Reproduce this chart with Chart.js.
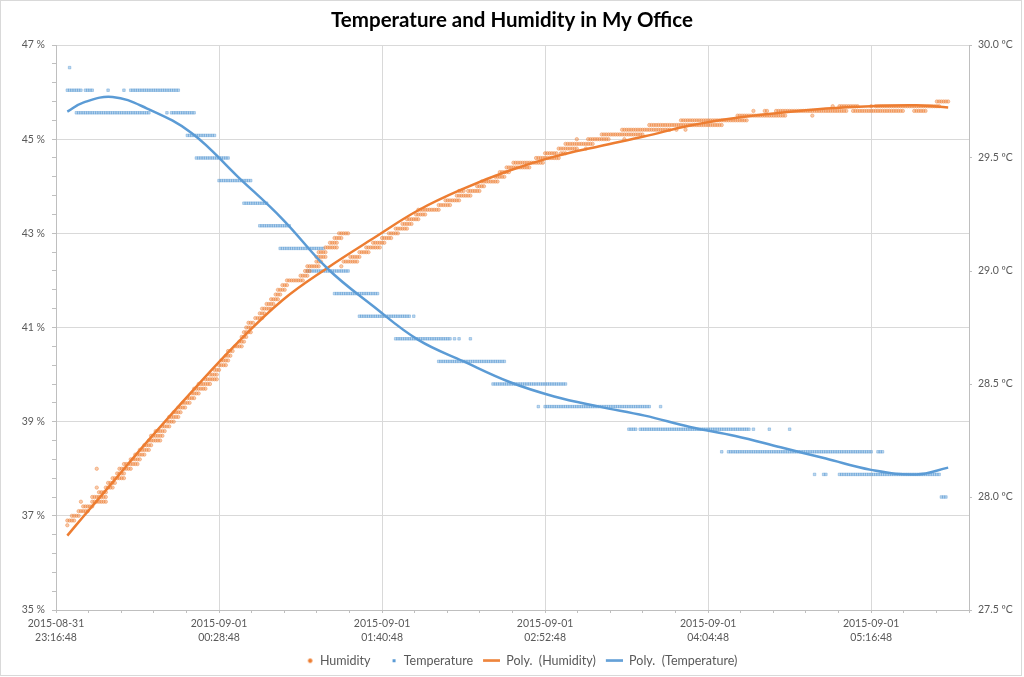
<!DOCTYPE html>
<html>
<head>
<meta charset="utf-8">
<script src="https://cdn.jsdelivr.net/npm/chart.js@4.4.1/dist/chart.umd.min.js"></script>
<style>
  html, body { margin: 0; padding: 0; background: #fff; }
  canvas { display: block; }
</style>
</head>
<body>
<canvas id="office-chart" width="1024" height="677"></canvas>
<script>
// x values are minutes after 2015-08-31 23:16:48 (axis start)
const xTickDates = ['2015-08-31', '2015-09-01', '2015-09-01', '2015-09-01', '2015-09-01', '2015-09-01'];
const xTickTimes = ['23:16:48', '00:28:48', '01:40:48', '02:52:48', '04:04:48', '05:16:48'];
const humidityTickLabels = ['35 %', '37 %', '39 %', '41 %', '43 %', '45 %', '47 %'];
const temperatureTickLabels = ['27.5 ºC', '28.0 ºC', '28.5 ºC', '29.0 ºC', '29.5 ºC', '30.0 ºC'];

// readings, one per minute: [value, first minute, last minute]
const humidityRuns = [
  [36.8, 5, 5], [36.9, 5, 8], [37.0, 7, 10], [37.1, 10, 14], [37.3, 11, 11], [37.2, 12, 16],
  [37.3, 16, 22], [37.4, 16, 22], [37.6, 18, 18], [38.0, 18, 18], [37.5, 19, 22], [37.6, 22, 25],
  [37.7, 23, 26], [37.8, 25, 30], [37.9, 27, 30], [38.0, 28, 33], [38.1, 30, 36], [38.2, 33, 37],
  [38.3, 35, 39], [38.4, 37, 41], [38.5, 39, 42], [38.6, 41, 46], [38.7, 42, 47], [38.8, 44, 48],
  [38.9, 47, 50], [39.0, 49, 52], [39.1, 50, 54], [39.2, 52, 55], [39.3, 54, 57], [39.4, 56, 59],
  [39.5, 58, 61], [39.6, 60, 63], [39.7, 61, 66], [39.8, 63, 68], [39.9, 66, 71], [40.0, 68, 71],
  [40.1, 70, 72], [40.2, 72, 75], [40.3, 73, 76], [40.4, 75, 77], [40.5, 76, 78], [40.6, 79, 82],
  [40.7, 81, 83], [40.8, 82, 84], [40.9, 83, 86], [41.0, 84, 86], [41.1, 85, 87], [41.2, 88, 91],
  [41.3, 90, 92], [41.4, 91, 95], [41.5, 93, 96], [41.6, 95, 98], [41.7, 97, 99], [41.8, 98, 101],
  [41.9, 100, 102], [42.0, 102, 109], [42.1, 108, 111], [42.2, 110, 112], [42.3, 111, 116],
  [42.4, 115, 117], [42.5, 115, 119], [42.6, 116, 119], [42.7, 119, 124], [42.8, 121, 124],
  [42.9, 123, 126], [43.0, 125, 129], [42.3, 126, 126], [42.4, 127, 133], [42.5, 130, 134],
  [42.6, 134, 138], [42.7, 137, 143], [42.8, 140, 145], [42.9, 144, 148], [43.0, 147, 151],
  [43.1, 150, 155], [43.2, 153, 157], [43.3, 155, 160], [43.4, 159, 163], [43.5, 160, 169],
  [43.6, 169, 173], [43.6, 174, 174], [43.7, 172, 178], [43.8, 177, 183], [43.9, 178, 180],
  [43.9, 182, 187], [44.0, 186, 189], [44.1, 188, 195], [44.2, 194, 198], [44.3, 196, 200],
  [44.4, 199, 209], [44.5, 202, 205], [44.5, 206, 215], [44.6, 212, 222], [44.7, 216, 221],
  [44.7, 223, 225], [44.8, 222, 230], [44.8, 234, 234], [44.9, 225, 237], [45.0, 230, 230],
  [45.0, 235, 244], [45.0, 251, 251], [45.1, 241, 246], [45.1, 247, 259], [45.2, 250, 271],
  [45.2, 274, 274], [45.2, 278, 278], [45.3, 262, 294], [45.4, 276, 305], [45.5, 301, 301],
  [45.5, 302, 322], [45.5, 334, 334], [45.6, 308, 308], [45.6, 313, 314], [45.6, 318, 349],
  [45.6, 352, 371], [45.6, 372, 374], [45.6, 379, 384], [45.7, 343, 343], [45.7, 346, 354],
  [45.7, 360, 360], [45.7, 362, 390], [45.8, 389, 394]
];

const temperatureRuns = [
  [29.9, 6, 6], [29.8, 5, 11], [29.8, 13, 16], [29.8, 23, 23], [29.8, 30, 30], [29.8, 33, 54],
  [29.7, 9, 41], [29.7, 49, 49], [29.7, 51, 61], [29.6, 58, 69], [29.6, 70, 70], [29.5, 62, 76],
  [29.4, 72, 86], [29.3, 83, 93], [29.2, 90, 103], [29.1, 99, 118], [29.0, 111, 129],
  [28.9, 123, 142], [28.8, 134, 156], [28.8, 158, 158], [28.7, 150, 174], [28.7, 176, 176],
  [28.7, 178, 178], [28.7, 183, 183], [28.6, 169, 198], [28.5, 193, 225], [28.4, 213, 213],
  [28.4, 216, 262], [28.4, 267, 267], [28.3, 253, 256], [28.3, 258, 306], [28.3, 308, 308],
  [28.3, 315, 315], [28.3, 324, 324], [28.2, 294, 294], [28.2, 297, 299], [28.2, 300, 359],
  [28.2, 360, 360], [28.2, 363, 365], [28.1, 335, 335], [28.1, 339, 340], [28.1, 346, 390],
  [28.0, 391, 393]
];

// polynomial trendlines
const trendMinutes = [5, 12, 25, 40, 60, 80, 100, 120, 140, 160, 180, 200, 220, 240, 260, 280, 300, 320, 340, 360, 380, 394];
const humidityTrend = [36.58, 36.98, 37.71, 38.56, 39.64, 40.67, 41.58, 42.27, 42.89, 43.49, 43.95, 44.33, 44.63, 44.85, 45.06, 45.29, 45.45, 45.56, 45.65, 45.70, 45.72, 45.67];
const temperatureTrend = [29.705, 29.745, 29.77, 29.72, 29.61, 29.42, 29.23, 29.01, 28.845, 28.695, 28.60, 28.51, 28.445, 28.40, 28.36, 28.31, 28.27, 28.22, 28.17, 28.12, 28.10, 28.13];

const ORANGE = '#ED7D31';
const BLUE = '#5B9BD5';
const GRID = '#D9D9D9';
const AXIS = '#BFBFBF';
const TEXT = '#595959';

function expandRuns(runs) {
  const pts = [];
  runs.forEach(([v, from, to]) => {
    for (let m = from; m <= to; m++) pts.push({ x: m, y: v });
  });
  return pts;
}

function trendPoints(values) {
  return trendMinutes.map((m, i) => ({ x: m, y: values[i] }));
}

// little legend marks
function makeMark(w, h, draw) {
  const c = document.createElement('canvas');
  c.width = w;
  c.height = h;
  draw(c.getContext('2d'));
  return c;
}
const legendMarks = [
  makeMark(27, 7, g => { g.fillStyle = ORANGE; g.beginPath(); g.arc(23.5, 3.5, 2.2, 0, Math.PI * 2); g.fill(); }),
  makeMark(27, 7, g => { g.fillStyle = BLUE; g.fillRect(22, 2, 3, 3); }),
  makeMark(27, 3, g => { g.fillStyle = ORANGE; g.fillRect(10, 0.25, 17, 2.5); }),
  makeMark(27, 3, g => { g.fillStyle = BLUE; g.fillRect(10, 0.25, 17, 2.5); })
];

Chart.defaults.font.family = 'Lato, "Liberation Sans", sans-serif';
Chart.defaults.color = TEXT;

const frame = {
  id: 'frame',
  beforeDraw(chart) {
    const ctx = chart.ctx;
    ctx.save();
    ctx.fillStyle = '#fff';
    ctx.fillRect(0, 0, chart.width, chart.height);
    ctx.restore();
  },
  afterDraw(chart) {
    const ctx = chart.ctx;
    ctx.save();
    ctx.strokeStyle = GRID;
    ctx.lineWidth = 1;
    ctx.strokeRect(0.5, 0.5, 1021, 675);
    ctx.restore();
  }
};

new Chart(document.getElementById('office-chart'), {
  type: 'scatter',
  data: {
    datasets: [
      {
        label: 'Humidity',
        data: expandRuns(humidityRuns),
        yAxisID: 'yH',
        order: 2,
        pointStyle: 'circle',
        pointRadius: 1.7,
        backgroundColor: 'rgba(237,125,49,0.4)',
        borderColor: 'rgba(237,125,49,0.85)',
        borderWidth: 0.5
      },
      {
        label: 'Temperature',
        data: expandRuns(temperatureRuns),
        yAxisID: 'yT',
        order: 3,
        pointStyle: 'rect',
        pointRadius: 1.8,
        backgroundColor: 'rgba(91,155,213,0.4)',
        borderColor: 'rgba(91,155,213,0.85)',
        borderWidth: 0.5
      },
      {
        label: 'Poly.  (Humidity)',
        data: trendPoints(humidityTrend),
        yAxisID: 'yH',
        order: 1,
        showLine: true,
        tension: 0.4,
        pointRadius: 0,
        borderColor: ORANGE,
        borderWidth: 2.5
      },
      {
        label: 'Poly.  (Temperature)',
        data: trendPoints(temperatureTrend),
        yAxisID: 'yT',
        order: 0,
        showLine: true,
        tension: 0.4,
        pointRadius: 0,
        borderColor: BLUE,
        borderWidth: 2.5
      }
    ]
  },
  options: {
    responsive: false,
    animation: false,
    devicePixelRatio: 1,
    layout: { padding: 0 },
    plugins: {
      tooltip: { enabled: false },
      title: {
        display: true,
        text: 'Temperature and Humidity in My Office',
        color: '#000',
        font: { size: 20.5, weight: 'bold' },
        padding: { top: 8, bottom: 12.4 }
      },
      legend: {
        position: 'bottom',
        labels: {
          usePointStyle: true,
          pointStyleWidth: 27,
          padding: 0,
          color: TEXT,
          font: { size: 12.5 },
          generateLabels: chart => chart.data.datasets.map((ds, i) => ({
            text: ds.label,
            pointStyle: legendMarks[i],
            fillStyle: ds.borderColor,
            strokeStyle: ds.borderColor,
            lineWidth: 0,
            hidden: false,
            datasetIndex: i,
            fontColor: TEXT
          }))
        }
      }
    },
    scales: {
      x: {
        type: 'linear',
        min: 0,
        max: 403.2,
        afterBuildTicks: s => {
          s.ticks = [];
          for (let k = 0; k <= 28; k++) s.ticks.push({ value: Math.round(k * 144) / 10 });
        },
        afterFit: s => { s.height = 44.5; },
        ticks: {
          autoSkip: false,
          maxRotation: 0,
          padding: 4,
          font: { size: 10.5, lineHeight: 1.3 },
          color: TEXT,
          callback: (v, i) => (i % 5 === 0 ? [xTickDates[i / 5], xTickTimes[i / 5]] : '')
        },
        grid: {
          color: c => (c.index % 5 === 0 ? GRID : 'rgba(0,0,0,0)'),
          tickColor: AXIS,
          tickLength: 3
        },
        border: { color: AXIS }
      },
      yH: {
        position: 'left',
        min: 35,
        max: 47,
        afterBuildTicks: s => {
          s.ticks = [];
          for (let k = 0; k <= 30; k++) s.ticks.push({ value: Math.round(350 + k * 4) / 10 });
        },
        afterFit: s => { s.width = 56; },
        ticks: {
          autoSkip: false,
          padding: 7,
          font: { size: 10.5 },
          color: TEXT,
          callback: (v, i) => (i % 5 === 0 ? humidityTickLabels[i / 5] : '')
        },
        grid: {
          color: c => (c.index % 5 === 0 ? GRID : 'rgba(0,0,0,0)'),
          tickColor: AXIS,
          tickLength: 4
        },
        border: { color: AXIS }
      },
      yT: {
        position: 'right',
        min: 27.5,
        max: 30,
        afterBuildTicks: s => {
          s.ticks = temperatureTickLabels.map((t, k) => ({ value: 27.5 + k * 0.5 }));
        },
        afterFit: s => { s.width = 55; },
        ticks: {
          autoSkip: false,
          padding: 6,
          font: { size: 10.5 },
          color: TEXT,
          callback: (v, i) => temperatureTickLabels[i]
        },
        grid: {
          drawOnChartArea: false,
          color: AXIS,
          tickLength: 3
        },
        border: { color: AXIS }
      }
    }
  },
  plugins: [frame]
});
</script>
</body>
</html>
